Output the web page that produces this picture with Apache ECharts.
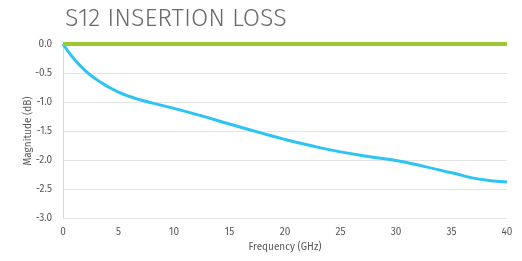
<!DOCTYPE html>
<html>
<head>
<meta charset="utf-8">
<script src="https://cdn.jsdelivr.net/npm/echarts@6/dist/echarts.min.js"></script>
<style>
    html, body { margin: 0; padding: 0; background: #fff; }
    #chart { width: 522px; height: 261px; }
</style>
</head>
<body>
<div id="chart"></div>
<script>
// 频率 (GHz)
const freqs = [0, 1, 2, 3, 4, 5, 6, 7, 8, 10, 12.5, 15, 17.5, 20, 22.5, 25, 27.5, 30, 32.5, 35, 37.5, 40];
// S12 插入损耗 (dB)
const s12Values = [0, -0.26, -0.46, -0.61, -0.73, -0.83, -0.905, -0.965, -1.015, -1.11, -1.24, -1.38, -1.515, -1.645, -1.76, -1.86, -1.94, -2.01, -2.11, -2.22, -2.33, -2.38];
// 参考线
const refFreqs = [0, 40];
const refValues = [0, 0];

const xTicks = { min: 0, max: 40, interval: 5 };
const yTicks = { min: -3, max: 0, interval: 0.5 };

const chart = echarts.init(document.getElementById('chart'));

const labelFont = "'Fira Sans', 'Open Sans', 'Noto Sans', sans-serif";

chart.setOption({
    animation: false,
    title: {
        text: 'S12 INSERTION LOSS',
        left: 60,
        top: 2,
        textStyle: {
            fontFamily: labelFont,
            fontWeight: 300,
            fontSize: 25,
            color: '#6b6b6b'
        }
    },
    grid: { left: 63, right: 15, top: 44, bottom: 43 },
    xAxis: {
        type: 'value',
        min: xTicks.min,
        max: xTicks.max,
        interval: xTicks.interval,
        name: 'Frequency (GHz)',
        nameLocation: 'middle',
        nameGap: 24,
        nameMoveOverlap: false,
        nameTextStyle: { fontFamily: labelFont, fontSize: 10, color: '#595959' },
        axisLine: { lineStyle: { color: '#d9d9d9' } },
        axisTick: { show: false },
        axisLabel: { fontFamily: labelFont, fontSize: 10, color: '#595959', margin: 9 },
        splitLine: { show: false }
    },
    yAxis: {
        type: 'value',
        min: yTicks.min,
        max: yTicks.max,
        interval: yTicks.interval,
        name: 'Magnitude (dB)',
        nameLocation: 'middle',
        nameGap: 30,
        nameMoveOverlap: false,
        nameTextStyle: { fontFamily: labelFont, fontSize: 10, color: '#595959' },
        axisLine: { show: true, lineStyle: { color: '#d9d9d9' } },
        axisTick: { show: false },
        axisLabel: {
            fontFamily: labelFont, fontSize: 10, color: '#595959', margin: 11,
            formatter: v => v.toFixed(1)
        },
        splitLine: { lineStyle: { color: '#e3e3e3' } }
    },
    series: [
        {
            type: 'line',
            data: freqs.map((f, i) => [f, s12Values[i]]),
            smooth: true,
            showSymbol: false,
            lineStyle: { color: '#2cc4f2', width: 3 }
        },
        {
            type: 'line',
            data: refFreqs.map((f, i) => [f, refValues[i]]),
            showSymbol: false,
            lineStyle: { color: '#9bc834', width: 4 }
        }
    ]
});
</script>
</body>
</html>
